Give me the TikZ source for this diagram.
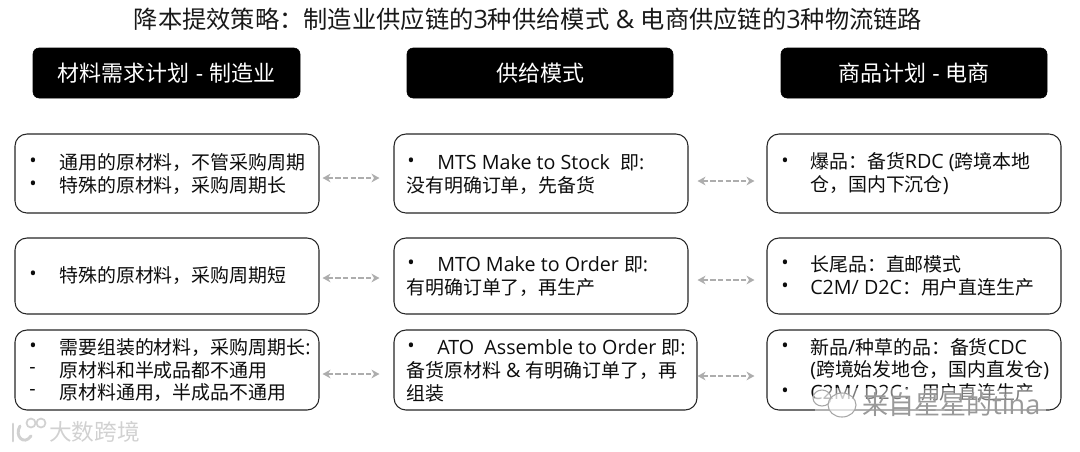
\documentclass[tikz,border=0pt]{standalone}
\usepackage{fontspec}
\setmainfont{Noto Sans CJK SC}
\newfontfamily\latf[Scale=1.04]{Open Sans}
\newcommand{\lat}[1]{{\latf #1}}
\usetikzlibrary{arrows.meta}
\tikzset{
  x=0.75pt,y=-0.75pt,
  hdr/.style={fill=black,draw=black,rounded corners=4.5pt,inner sep=0,text=white,font=\fontsize{16.5}{18}\selectfont},
  box/.style={draw=black!85,line width=0.8pt,rounded corners=9pt,inner sep=0,fill=white},
  tx/.style={anchor=west,inner sep=0,font=\fontsize{14.2}{15}\selectfont,text=black!95},
  conn/.style={draw=black!32,line width=1.1pt,dash pattern=on 4pt off 1.8pt,{Stealth[length=6pt,width=6.5pt]}-{Stealth[length=6pt,width=6.5pt]}},
  wm/.style={anchor=west,inner sep=0,text=black!22}
}
\newcommand{\bx}[5]{\node[box,minimum width=#3*0.75pt,minimum height=#4*0.75pt] (#5) at (#1,#2) {};}
\begin{document}
\begin{tikzpicture}
\useasboundingbox (0,0) rectangle (1080,451);
\node[anchor=center,inner sep=0,font=\fontsize{18.2}{20}\selectfont,text=black!90] (title) at (528,19) {降本提效策略：制造业供应链的\lat{3}种供给模式\lat{ \& }电商供应链的\lat{3}种物流链路};
\node[hdr,minimum width=200.25pt,minimum height=37.5pt] (h1) at (166.5,73) {材料需求计划\lat{ - }制造业};
\node[hdr,minimum width=199.5pt,minimum height=37.5pt] (h2) at (540,73) {供给模式};
\node[hdr,minimum width=199.5pt,minimum height=37.5pt] (h3) at (914,73) {商品计划\lat{ - }电商};
% boxes
\bx{167}{173.5}{304}{79}{a1}
\bx{167}{276}{304}{76}{a2}
\bx{167}{370}{304}{80}{a3}
\bx{541}{173.5}{294}{79}{b1}
\bx{541}{276}{294}{76}{b2}
\bx{545.5}{370}{303}{80}{b3}
\bx{914}{173.5}{294}{79}{c1}
\bx{914}{276}{294}{76}{c2}
\bx{914}{370}{294}{80}{c3}
% left column
\node[tx] (a1p) at (29,162.5) {\lat{•}};\node[tx] (a1a) at (59,162.5) {通用的原材料，不管采购周期};
\node[tx] (a1q) at (29,185.5) {\lat{•}};\node[tx] (a1b) at (59,185.5) {特殊的原材料，采购周期长};
\node[tx] (a2p) at (29,275.5) {\lat{•}};\node[tx] (a2a) at (59,275.5) {特殊的原材料，采购周期短};
\node[tx] (a3p) at (29,347.5) {\lat{•}};\node[tx] (a3a) at (59,347.5) {需要组装的材料，采购周期长\lat{:}};
\node[tx] (a3q) at (29,370.5) {\lat{-}};\node[tx] (a3b) at (59,370.5) {原材料和半成品都不通用};
\node[tx] (a3r) at (29,392.5) {\lat{-}};\node[tx] (a3c) at (59,392.5) {原材料通用，半成品不通用};
% middle column
\node[tx] (b1p) at (407,162.5) {\lat{•}};\node[tx] (b1a) at (437,162.5) {\lat{MTS Make to Stock\ \ }即\lat{:}};
\node[tx] (b1b) at (406,185.5) {没有明确订单，先备货};
\node[tx] (b2p) at (407,264.5) {\lat{•}};\node[tx] (b2a) at (437,264.5) {\lat{MTO Make to Order }即\lat{:}};
\node[tx] (b2b) at (406,287.5) {有明确订单了，再生产};
\node[tx] (b3p) at (407,347.5) {\lat{•}};\node[tx] (b3a) at (437,347.5) {\lat{ATO\ \ Assemble to Order }即\lat{:}};
\node[tx] (b3b) at (406,370.5) {备货原材料\lat{ \& }有明确订单了，再};
\node[tx] (b3c) at (406,393.5) {组装};
% right column
\node[tx] (c1p) at (781,162.5) {\lat{•}};\node[tx] (c1a) at (810,162.5) {爆品：备货\lat{RDC (}跨境本地};
\node[tx] (c1b) at (810,185.5) {仓，国内下沉仓\lat{)}};
\node[tx] (c2p) at (781,264.5) {\lat{•}};\node[tx] (c2a) at (810,264.5) {长尾品：直邮模式};
\node[tx] (c2q) at (781,287.5) {\lat{•}};\node[tx] (c2b) at (810,287.5) {\lat{C2M/ D2C}：用户直连生产};
\node[tx] (c3p) at (781,347.5) {\lat{•}};\node[tx] (c3a) at (810,347.5) {新品\lat{/}种草的品：备货\lat{CDC}};
\node[tx] (c3b) at (810,370.5) {\lat{(}跨境始发地仓，国内直发仓\lat{)}};
\node[tx] (c3q) at (781,392.5) {\lat{•}};\node[tx] (c3c) at (810,392.5) {\lat{C2M/ D2C}：用户直连生产};
% connectors
\draw[conn] ([shift={(3,4.5)}]a1.east) -- ([shift={(-14,4.5)}]b1.west);
\draw[conn] ([shift={(3,2)}]a2.east) -- ([shift={(-14,2)}]b2.west);
\draw[conn] ([shift={(3,4)}]a3.east) -- ([shift={(-14,4)}]b3.west);
\draw[conn] ([shift={(9,7.5)}]b1.east) -- ([shift={(-12,7.5)}]c1.west);
\draw[conn] ([shift={(9,4)}]b2.east) -- ([shift={(-12,4)}]c2.west);
\draw[conn] ([shift={(0,6)}]b3.east) -- ([shift={(-12,6)}]c3.west);
% watermarks
\node[wm,font=\fontsize{17}{18}\selectfont,text=black!18] (wmb) at (49,432) {大数跨境};
\draw[black!18,line width=2.2pt,line cap=round] (13,424) -- (13,441);
\draw[black!18,line width=2.2pt,line cap=round] (31,436) .. controls (24,446) and (14,436) .. (20,426);
\draw[black!18,line width=1.3pt] (31,423) circle (4.5);
\draw[black!18,line width=1.3pt] (41,423) circle (4.5);
\fill[white,opacity=.45] (815,388) rectangle (1046,418);
\draw[black!35,line width=0.8pt,fill=white,fill opacity=.5] (822,398) ellipse (9 and 8);
\draw[black!35,line width=0.8pt,fill=white,fill opacity=.6] (842,405) ellipse (14 and 12);
\node[wm,font=\fontsize{19.5}{20}\selectfont,text=black!40] (wmc) at (862,405) {来自星星的\lat{tina}};
\end{tikzpicture}
\end{document}
